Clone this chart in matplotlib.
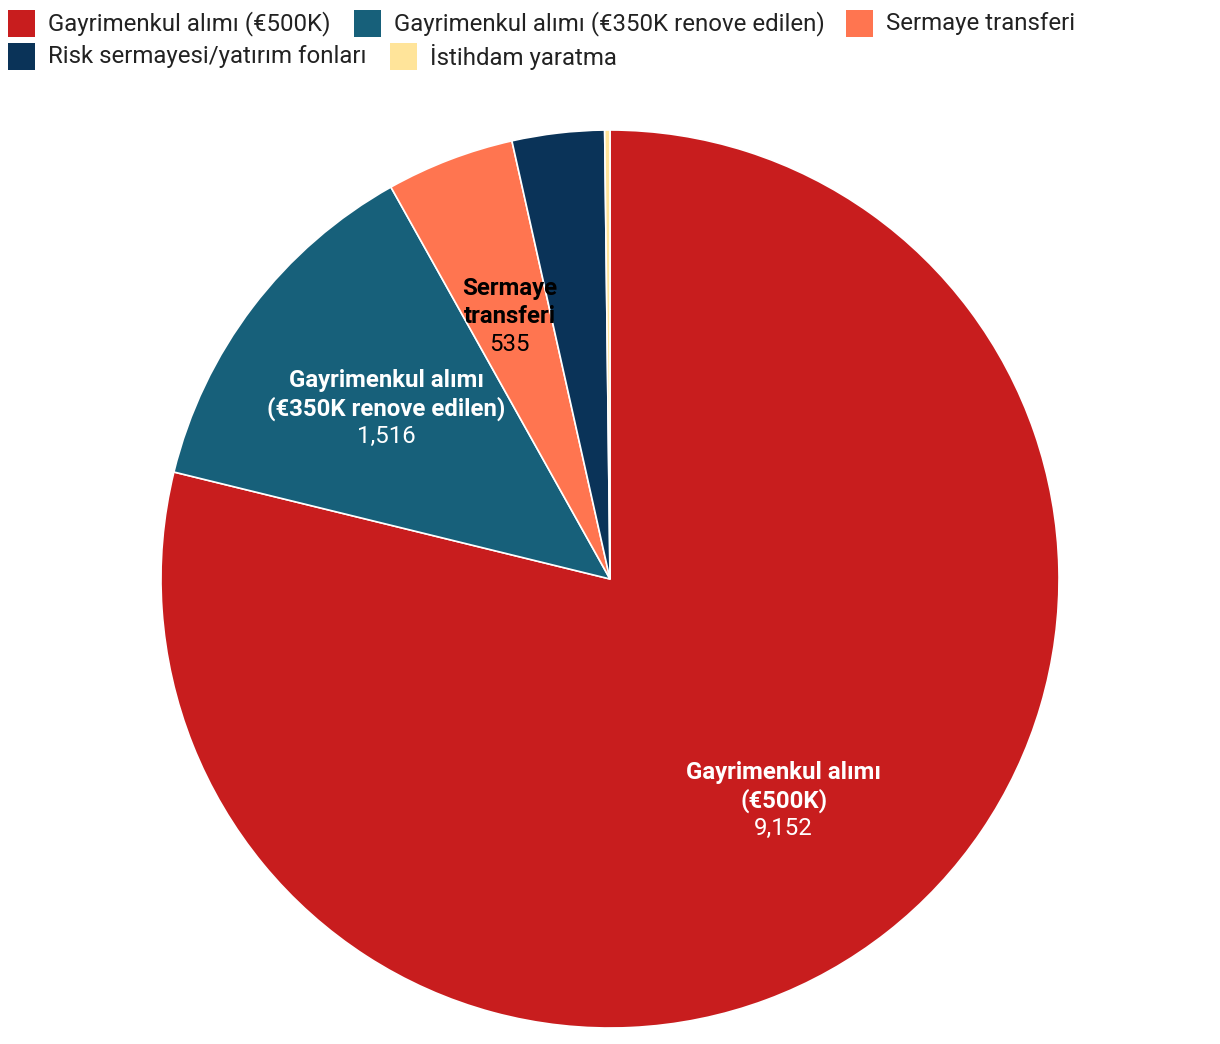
import numpy as np
import matplotlib
matplotlib.use("Agg")
import matplotlib.pyplot as plt
from matplotlib.patches import Rectangle

plt.rcParams['font.family'] = ['Roboto', 'DejaVu Sans']

categories = ["Gayrimenkul alımı (€500K)", "Gayrimenkul alımı (€350K renove edilen)",
              "Sermaye transferi", "Risk sermayesi/yatırım fonları", "İstihdam yaratma"]
values = [9152, 1516, 535, 385, 22]
slice_labels = ["Gayrimenkul alımı\n(€500K)", "Gayrimenkul alımı\n(€350K renove edilen)",
                "Sermaye\ntransferi", None, None]
colors = ["#C81D1E", "#17607A", "#FF7550", "#0A3358", "#FFE49A"]
label_colors = ["white", "white", "black", None, None]

W, H = 1220, 1044
fig = plt.figure(figsize=(W / 100, H / 100), dpi=100)
cx, cy, r = 610, 579, 449
ax = fig.add_axes([(cx - r) / W, (H - cy - r) / H, 2 * r / W, 2 * r / H])
wedges, _ = ax.pie(values, colors=colors, startangle=90, counterclock=False, radius=1,
                   wedgeprops=dict(edgecolor="white", linewidth=1.2))
ax.set_xlim(-1, 1)
ax.set_ylim(-1, 1)
ax.set_aspect('auto')
ax.axis('off')

line_pt = 28 * 72 / 100
for w, lab, val, lc in zip(wedges, slice_labels, values, label_colors):
    if lab is None:
        continue
    ang = np.deg2rad((w.theta1 + w.theta2) / 2)
    x, y = 0.627 * np.cos(ang), 0.627 * np.sin(ang)
    nlines = lab.count("\n") + 1
    tot_lines = nlines + 1
    for i, line in enumerate(lab.split("\n")):
        off = ((tot_lines - 1) / 2 - i) * line_pt
        ax.annotate(line, (x, y), xytext=(0, off), textcoords='offset points',
                    ha='center', va='center', fontsize=17.3, fontweight='bold', color=lc)
    off = ((tot_lines - 1) / 2 - nlines) * line_pt
    ax.annotate(f"{val:,}", (x, y), xytext=(0, off), textcoords='offset points',
                ha='center', va='center', fontsize=17.3, color=lc)

# legend (flowing layout)
legend_pos = [(8, 10), (354, 10), (846, 10), (8, 43), (390, 43)]
sq = 27
for (lx, ly), cat, col in zip(legend_pos, categories, colors):
    fig.patches.append(Rectangle((lx / W, 1 - (ly + sq) / H), sq / W, sq / H,
                                 transform=fig.transFigure, facecolor=col, edgecolor='none'))
    fig.text((lx + sq + 13) / W, 1 - (ly + sq / 2) / H, cat, ha='left', va='center',
             fontsize=17.3, color='#222222')

fig.savefig("out.png", dpi=100)
